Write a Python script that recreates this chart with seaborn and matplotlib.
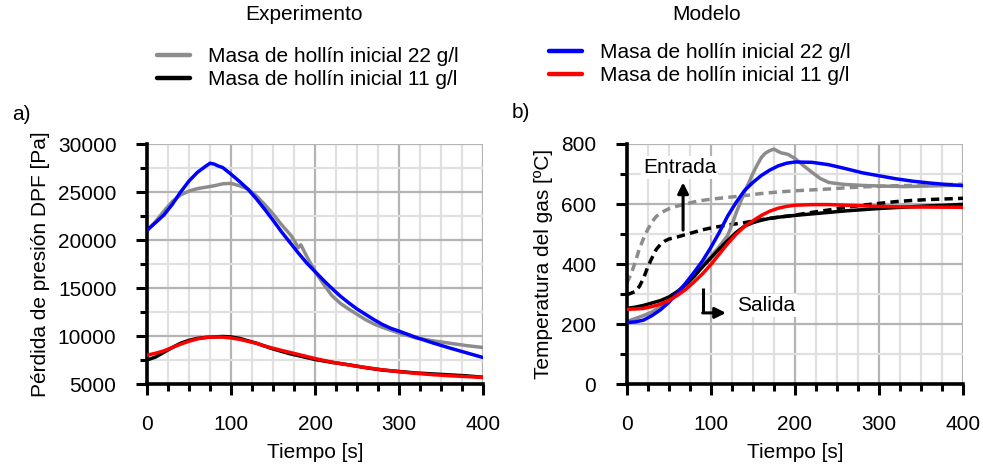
import numpy as np
import pandas as pd
import matplotlib
matplotlib.use("Agg")
import matplotlib.pyplot as plt
from matplotlib.lines import Line2D
from matplotlib.ticker import MultipleLocator
import seaborn as sns

# ---------------- data ----------------
# a) pressure drop [Pa]
t_p_mod22 = [0, 10, 20, 30, 40, 50, 60, 70, 75, 80, 85, 90, 95, 100, 110, 120, 130, 140, 150,
             160, 170, 180, 190, 200, 210, 220, 230, 240, 250, 260, 270, 280, 290, 300, 320,
             340, 360, 380, 400]
p_mod22 = [21000, 21800, 22600, 23700, 25000, 26150, 27050, 27700, 28000, 27900, 27700, 27550,
           27200, 26850, 26100, 25300, 24300, 23200, 22050, 20850, 19750, 18650, 17600, 16700,
           15800, 14950, 14150, 13450, 12800, 12250, 11700, 11200, 10800, 10500, 9850, 9280,
           8750, 8250, 7750]

t_p_exp22 = [0, 10, 20, 30, 40, 50, 60, 70, 80, 90, 100, 110, 120, 130, 140, 150, 160, 168,
             172, 176, 180, 183, 187, 190, 200, 210, 220, 230, 240, 250, 260, 270, 280, 290,
             300, 320, 340, 360, 380, 400]
p_exp22 = [21000, 21900, 23000, 24000, 24700, 25100, 25350, 25500, 25650, 25850, 25900, 25650,
           25300, 24600, 23700, 22700, 21600, 20800, 20400, 19800, 19200, 19500, 18800, 18300,
           16700, 15400, 14200, 13400, 12800, 12250, 11700, 11250, 10900, 10600, 10300, 9800,
           9500, 9250, 9000, 8800]

t_p_mod11 = [0, 10, 20, 30, 40, 50, 60, 70, 80, 90, 100, 110, 120, 130, 140, 160, 180, 200,
             220, 240, 260, 280, 300, 320, 340, 360, 380, 400]
p_mod11 = [8000, 8200, 8450, 8800, 9150, 9450, 9700, 9850, 9900, 9880, 9800, 9650, 9450, 9250,
           8950, 8500, 8080, 7650, 7280, 6980, 6720, 6480, 6280, 6110, 5970, 5860, 5770, 5690]

t_p_exp11 = [0, 10, 20, 30, 40, 50, 60, 70, 80, 90, 100, 110, 120, 130, 140, 150, 160, 170,
             180, 190, 200, 220, 240, 260, 280, 300, 320, 340, 360, 380, 400]
p_exp11 = [7500, 7800, 8300, 8800, 9250, 9550, 9750, 9850, 9900, 9950, 9900, 9750, 9500, 9250,
           8950, 8650, 8400, 8150, 7950, 7750, 7550, 7250, 7000, 6700, 6450, 6300, 6150, 6050,
           5950, 5850, 5700]

# b) gas temperature [ºC]
t_T_mod22 = [0, 10, 20, 30, 40, 50, 60, 70, 80, 90, 100, 110, 120, 130, 140, 150, 160, 170,
             180, 190, 200, 220, 240, 260, 280, 300, 320, 340, 360, 380, 400]
T_mod22 = [205, 207, 213, 228, 247, 272, 303, 336, 372, 410, 455, 505, 560, 605, 645, 672, 695,
           713, 727, 736, 740, 739, 731, 718, 704, 694, 684, 676, 670, 665, 661]

t_T_mod11 = [0, 10, 20, 30, 40, 50, 60, 70, 80, 90, 100, 110, 120, 130, 140, 150, 160, 170,
             180, 190, 200, 220, 240, 260, 280, 300, 340, 400]
T_mod11 = [249, 250, 252, 258, 266, 278, 295, 315, 340, 367, 398, 433, 468, 499, 525, 544, 562,
           576, 586, 592, 596, 598, 598, 596, 594, 592, 590, 589]

t_T_exp11_out = [0, 10, 20, 30, 40, 50, 60, 70, 80, 90, 100, 110, 120, 130, 140, 150, 160, 170,
                 180, 200, 220, 240, 260, 280, 300, 320, 340, 360, 380, 400]
T_exp11_out = [252, 256, 262, 270, 278, 290, 308, 330, 358, 390, 420, 450, 478, 505, 526, 538,
               546, 552, 556, 562, 567, 572, 577, 581, 585, 588, 591, 594, 596, 599]

t_T_exp22_out = [0, 10, 20, 30, 40, 50, 60, 70, 80, 90, 100, 110, 120, 125, 130, 135, 140, 145,
                 150, 155, 160, 165, 170, 175, 180, 184, 188, 192, 196, 200, 210, 220, 230, 240,
                 250, 260, 280, 300, 330, 360, 400]
T_exp22_out = [208, 218, 228, 240, 258, 280, 305, 333, 363, 395, 425, 458, 495, 530, 570, 605,
               640, 670, 702, 730, 755, 770, 778, 783, 775, 770, 768, 765, 758, 752, 728, 706,
               685, 672, 668, 665, 662, 660, 658, 660, 663]

t_T_exp22_in = [0, 5, 10, 15, 20, 25, 30, 35, 40, 50, 60, 70, 80, 90, 100, 120, 140, 160, 180,
                200, 220, 240, 260, 280, 300, 320, 340, 360, 380, 400]
T_exp22_in = [336, 365, 405, 450, 485, 515, 540, 558, 570, 584, 593, 600, 607, 612, 616, 622,
              628, 635, 640, 644, 647, 650, 654, 657, 659, 661, 662, 664, 665, 666]

t_T_exp11_in = [0, 10, 15, 20, 25, 30, 35, 40, 45, 50, 60, 70, 80, 90, 100, 120, 140, 160, 180,
                200, 220, 240, 260, 280, 300, 320, 340, 360, 380, 400]
T_exp11_in = [297, 308, 325, 352, 390, 420, 448, 465, 476, 483, 490, 498, 506, 514, 520, 530,
              538, 548, 556, 563, 572, 580, 589, 596, 602, 608, 612, 615, 617, 619]

legend_labels = ["Masa de hollín inicial 22 g/l", "Masa de hollín inicial 11 g/l"]
legend_titles = ["Experimento", "Modelo"]

# ---------------- styling ----------------
sns.set_theme(style="white")
plt.rcParams["font.family"] = ["Liberation Sans", "DejaVu Sans"]
plt.rcParams["font.size"] = 15
plt.rcParams["text.color"] = "black"
plt.rcParams["axes.labelcolor"] = "black"
plt.rcParams["xtick.color"] = "black"
plt.rcParams["ytick.color"] = "black"

GRAY = "#8c8c8c"
BLUE = "#0000ff"
RED = "#ff0000"
BLACK = "#000000"
LW = 2.5

fig = plt.figure(figsize=(9.83, 4.65), dpi=100)
ax1 = fig.add_axes([147 / 983, 1 - 384 / 465, 336.3 / 983, 240 / 465])
ax2 = fig.add_axes([626.7 / 983, 1 - 384 / 465, 336.6 / 983, 240 / 465])


def draw(ax, t, v, color, dashed=False, z=2):
    df = pd.DataFrame({"t": t, "v": v})
    n0 = len(ax.lines)
    sns.lineplot(data=df, x="t", y="v", ax=ax, color=color, lw=LW, estimator=None,
                 sort=False, zorder=z)
    ln = ax.lines[n0]
    ln.set_solid_capstyle("round")
    if dashed:
        ln.set_dashes((2.4, 1.5))
        ln.set_dash_capstyle("butt")


# a)
draw(ax1, t_p_exp22, p_exp22, GRAY, z=2)
draw(ax1, t_p_mod22, p_mod22, BLUE, z=3)
draw(ax1, t_p_exp11, p_exp11, BLACK, z=2)
draw(ax1, t_p_mod11, p_mod11, RED, z=3)

# b)
draw(ax2, t_T_exp22_in, T_exp22_in, GRAY, dashed=True, z=2)
draw(ax2, t_T_exp11_in, T_exp11_in, BLACK, dashed=True, z=2)
draw(ax2, t_T_exp22_out, T_exp22_out, GRAY, z=2.2)
draw(ax2, t_T_exp11_out, T_exp11_out, BLACK, z=2.3)
draw(ax2, t_T_mod22, T_mod22, BLUE, z=3)
draw(ax2, t_T_mod11, T_mod11, RED, z=3.1)

for ax, ylim, ymaj, ymin, ylab, lx in [
    (ax1, (5000, 30000), 5000, 2500, "Pérdida de presión DPF [Pa]", -0.288),
    (ax2, (0, 800), 200, 100, "Temperatura del gas [ºC]", -0.219),
]:
    ax.set_xlim(0, 400)
    ax.set_ylim(*ylim)
    ax.xaxis.set_major_locator(MultipleLocator(100))
    ax.xaxis.set_minor_locator(MultipleLocator(25))
    ax.yaxis.set_major_locator(MultipleLocator(ymaj))
    ax.yaxis.set_minor_locator(MultipleLocator(ymin))
    ax.grid(which="major", color="#b4b4b4", lw=1.6, zorder=0)
    ax.grid(which="minor", color="#e0e0e0", lw=1.6, zorder=0)
    ax.set_axisbelow(True)
    for s in ["top", "right"]:
        ax.spines[s].set_visible(False)
    for s in ["left", "bottom"]:
        ax.spines[s].set_color("black")
        ax.spines[s].set_linewidth(2.6)
    ax.tick_params(which="major", direction="out", length=8, width=2.2, color="black",
                   labelcolor="black", pad=14, labelsize=15, left=True, bottom=True)
    ax.tick_params(which="minor", direction="out", length=5, width=2.2, color="black",
                   left=True, bottom=True)
    ax.set_xlabel("Tiempo [s]", fontsize=15, color="black")
    ax.set_ylabel(ylab, fontsize=15, color="black")
    ax.xaxis.set_label_coords(0.5, -0.245)
    ax.yaxis.set_label_coords(lx, 0.5)
    ax.set_facecolor("white")

# annotations in b)
ax2.annotate("", xy=(67, 672), xytext=(67, 513),
             arrowprops=dict(arrowstyle="-|>", lw=2.2, color="black", mutation_scale=16,
                             shrinkA=0, shrinkB=0), zorder=5)
ax2.text(63, 722, "Entrada", ha="center", va="center", fontsize=15, zorder=6, color="black",
         bbox=dict(fc="white", ec="none", pad=1.5))
ax2.plot([91, 91], [320, 237], color="black", lw=2.2, zorder=5, solid_capstyle="butt")
ax2.annotate("", xy=(118, 237), xytext=(90.3, 237),
             arrowprops=dict(arrowstyle="-|>", lw=2.2, color="black", mutation_scale=16,
                             shrinkA=0, shrinkB=0), zorder=5)
ax2.text(131, 262, "Salida", ha="left", va="center", fontsize=15, zorder=6, color="black",
         bbox=dict(fc="white", ec="none", pad=1.5))

# panel letters
fig.text(12 / 983, 1 - 115 / 465, "a)", fontsize=15, ha="left", va="center", color="black")
fig.text(512 / 983, 1 - 113 / 465, "b)", fontsize=15, ha="left", va="center", color="black")

# legends and titles
fig.text(304 / 983, 1 - 15 / 465, legend_titles[0], fontsize=15, ha="center", va="center",
         color="black")
fig.text(707 / 983, 1 - 15 / 465, legend_titles[1], fontsize=15, ha="center", va="center",
         color="black")

h_exp = [Line2D([], [], color=GRAY, lw=3.2), Line2D([], [], color=BLACK, lw=3.2)]
h_mod = [Line2D([], [], color=BLUE, lw=3.2), Line2D([], [], color=RED, lw=3.2)]
common = dict(loc="upper left", frameon=False, fontsize=15, borderpad=0, borderaxespad=0,
              handlelength=1.6, handletextpad=0.85, labelspacing=0.2, labelcolor="black")
fig.legend(h_exp, legend_labels, bbox_to_anchor=(157 / 983, 1 - 47 / 465), **common)
fig.legend(h_mod, legend_labels, bbox_to_anchor=(549 / 983, 1 - 43 / 465), **common)

fig.savefig("out.png", dpi=100, facecolor="white")
